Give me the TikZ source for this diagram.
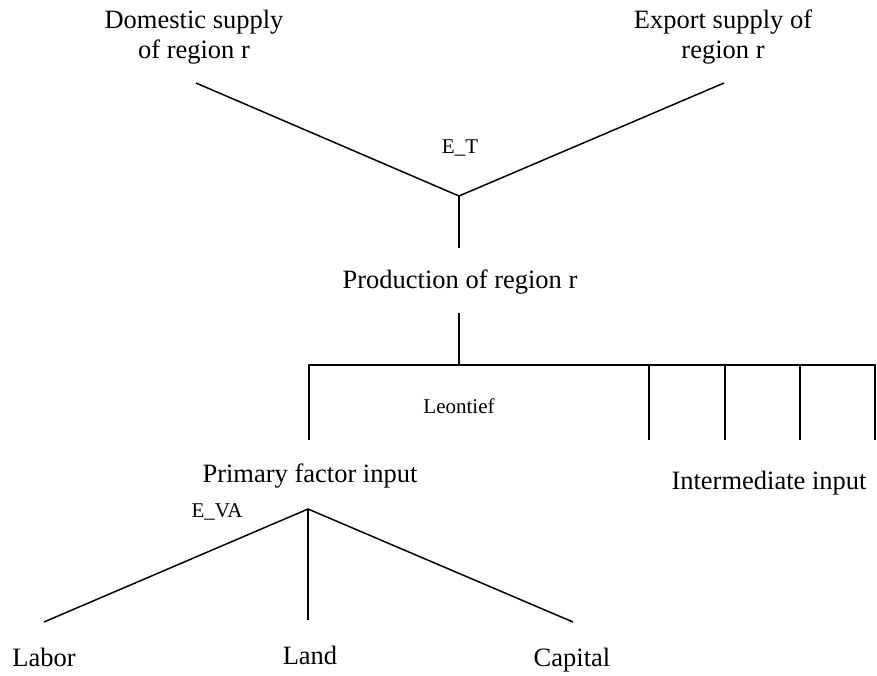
\documentclass[tikz,border=0pt]{standalone}
\usepackage{fontspec}
\setmainfont{Liberation Serif}
\usepackage{tikz}

\begin{document}
\begin{tikzpicture}[x=1pt, y=-1pt,
  big/.style={font=\fontsize{26.5}{30}\selectfont, align=center, inner sep=0pt},
  small/.style={font=\fontsize{21}{24}\selectfont, inner sep=0pt},
  branch/.style={black, line width=1.5pt}]
\useasboundingbox (0,0) rectangle (877,675);
% top level: transformation
\node [big] (dom) at (194,37) {Domestic supply\\of region r};
\node [big] (exp) at (723,37) {Export supply of\\region r};
\node [small] (et) at (460,148) {E\_T};
\node [big] (prod) at (460,282) {Production of region r};
% second level: leontief
\node [small] (leon) at (459,406) {Leontief};
\node [big] (prim) at (310,476) {Primary factor input};
\node [big] (inter) at (769,483) {Intermediate input};
% third level: value added
\node [small] (eva) at (217,512) {E\_VA};
\node [big, anchor=base] (labor) at (44,666) {Labor};
\node [big, anchor=base] (land) at (310,664) {Land};
\node [big, anchor=base] (capital) at (572,666) {Capital};
% connector ends
\coordinate (dl) at (196,83);
\coordinate (er) at (724,83);
\coordinate (jt) at (459,196);
\coordinate (jb) at (459,248);
\coordinate (pt) at (459,313);
\coordinate (pb) at (459,365);
\coordinate (bl) at (309,365);
\coordinate (br) at (875,365);
\coordinate (fl) at (309,440);
\coordinate (i1t) at (649,365);
\coordinate (i1) at (649,440);
\coordinate (i2t) at (725,365);
\coordinate (i2) at (725,440);
\coordinate (i3t) at (800,365);
\coordinate (i3) at (800,440);
\coordinate (i4) at (875,440);
\coordinate (va) at (308,509);
\coordinate (la) at (44,622);
\coordinate (ln) at (308,620);
\coordinate (ca) at (573,622);
\draw [branch] (dl) -- (jt) -- (er);
\draw [branch] (jt) -- (jb);
\draw [branch] (pt) -- (pb);
\draw [branch] (fl) -- (bl) -- (br) -- (i4);
\draw [branch] (i1t) -- (i1);
\draw [branch] (i2t) -- (i2);
\draw [branch] (i3t) -- (i3);
\draw [branch] (la) -- (va) -- (ca);
\draw [branch] (va) -- (ln);
\end{tikzpicture}
\end{document}
